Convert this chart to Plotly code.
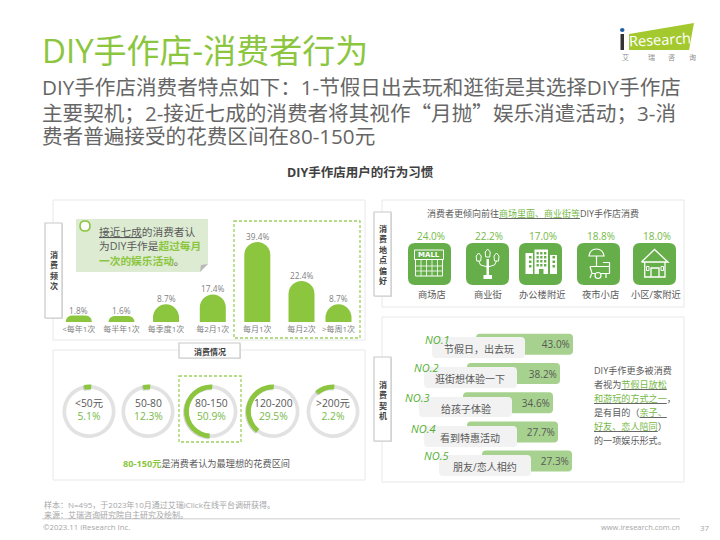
import plotly.graph_objects as go

# ---------- data ----------
freq_categories = ["<每年1次", "每半年1次", "每季度1次", "每2月1次", "每月1次", "每月2次", ">每周1次"]
freq_labels = ["1.8%", "1.6%", "8.7%", "17.4%", "39.4%", "22.4%", "8.7%"]
# the reference infographic does not draw its columns to scale: heights
freq_drawn_height = [3.2, 3.0, 8.7, 13.6, 39.4, 20.2, 8.7]

spend_categories = ["<50元", "50-80", "80-150", "120-200", ">200元"]
spend_labels = ["5.1%", "12.3%", "50.9%", "29.5%", "2.2%"]
# ring arcs (share of the circle) and where each starts
spend_arc_share = [4.5, 4.5, 50.0, 40.0, 12.0]
spend_arc_start = [-11, -11, 183, 218, -40]

place_categories = ["商场店", "商业街", "办公楼附近", "夜市小店", "小区/家附近"]
place_labels = ["24.0%", "22.2%", "17.0%", "18.8%", "18.0%"]

reason_categories = ["节假日，出去玩", "逛街想体验一下", "给孩子体验", "看到特惠活动", "朋友/恋人相约"]
reason_ranks = ["NO.1", "NO.2", "NO.3", "NO.4", "NO.5"]
reason_labels = ["43.0%", "38.2%", "34.6%", "27.7%", "27.3%"]
reason_bar_start = [476, 467, 463, 467, 482]
reason_bar_length = [97, 93, 90, 91, 90]

# ---------- layout constants ----------
W, H = 720, 540
FONT = "Open Sans, Noto Sans CJK SC"
CJK = "Noto Sans CJK SC"
GREEN = "#8cc63f"
ICON = "#66ae4a"
HBAR = "#a6d18e"
TXT = "#595959"
NOTE = "#a6a6a6"
DASH = "#9fd05f"
freq_x = [78.8, 121.5, 166, 212.8, 257.3, 301.5, 338.5]
ring_cx = [89, 148, 211, 273, 333]
ring_cy = 411.5
place_pct_x = [431, 489, 543, 601, 657]
place_lab_x = [432, 488, 542, 600, 656]
place_icon_x = [408, 466, 519, 577, 633]
place_icon_y = 243
rank_pos = [(437, 339), (426, 367), (417, 397), (423, 428), (436, 455)]
box_span = [(432, 525, 337, 358), (424, 517, 367, 388), (419, 512, 397, 417),
            (424, 517, 426, 447), (439, 531, 455, 476)]
box_text = [(479, 349), (470, 379), (466, 409), (470, 438), (485, 467)]

shapes, notes = [], []


def rr(x0, y0, x1, y1, r):
    return (f"M{x0+r},{y0} L{x1-r},{y0} Q{x1},{y0} {x1},{y0+r} L{x1},{y1-r} Q{x1},{y1} {x1-r},{y1} "
            f"L{x0+r},{y1} Q{x0},{y1} {x0},{y1-r} L{x0},{y0+r} Q{x0},{y0} {x0+r},{y0} Z")


def path(d, fill=None, line=None, lw=1, dash=None, layer="below"):
    s = dict(type="path", path=d, xref="x", yref="y", layer=layer,
             line=dict(color=line or "rgba(0,0,0,0)", width=lw if line else 0))
    if dash:
        s["line"]["dash"] = dash
    if fill:
        s["fillcolor"] = fill
    shapes.append(s)


def rect(x0, y0, x1, y1, fill=None, line=None, lw=1, dash=None, layer="below"):
    path(f"M{x0},{y0} L{x1},{y0} L{x1},{y1} L{x0},{y1} Z", fill, line, lw, dash, layer)


def text(x, y, t, size=9, color=TXT, anchor="left", family=FONT, angle=0):
    dx = {"left": -1, "right": 1, "center": 0}[anchor]
    notes.append(dict(x=x + dx, y=y, text=t, xref="x", yref="y", showarrow=False, xanchor=anchor,
                      yanchor="middle", align=anchor, textangle=angle,
                      font=dict(size=size, color=color, family=family)))


def tag(x0, y0, x1, y1, chars, yc, size=8):
    rect(x0 + 1, y0 + 1, x1 + 1, y1 + 1, fill="#e4e4e4")
    rect(x0, y0, x1, y1, fill="#ffffff", line="#c9c9c9", lw=1.2)
    text((x0 + x1) / 2, yc, "<b>" + "<br>".join(chars) + "</b>", size, "#404040", "center")


# ---------- page furniture ----------
QUOTE = f'<span style="font-family:{CJK}">“月抛”</span>'
text(41, 50, "DIY手作店-消费者行为", 33, GREEN)
text(41, 87, "DIY手作店消费者特点如下：1-节假日出去玩和逛街是其选择DIY手作店", 20.6, "#666666")
text(41, 111.5, f"主要契机；2-接近七成的消费者将其视作{QUOTE}娱乐消遣活动；3-消", 20.6, "#666666")
text(41, 136, "费者普遍接受的花费区间在80-150元", 20.6, "#666666")
text(360, 172, "<b>DIY手作店用户的行为习惯</b>", 12.5, "#404040", "center")

# logo
path("M629,34 L694,23 L689,50 L629,50 Z", fill="#a4c92f")
rect(620.5, 34, 624, 50, fill="#333333")
path("M624.5,30 Q624.5,32 622.2,32 Q620,32 620,30 Q620,28 622.2,28 Q624.5,28 624.5,30 Z", fill="#1f5fa8")
text(660, 39, "Research", 14.5, "#ffffff", "center", angle=-3)
for c, x in zip("艾瑞咨询", [625, 651, 671, 692]):
    text(x, 57, c, 7, "#8c8c8c", "center")

# panels
rect(53, 200, 365, 340, fill="#ffffff", line="#e8e8e8")
rect(53, 350, 365, 480, fill="#ffffff", line="#e8e8e8")
rect(382, 200, 684, 307, fill="#ffffff", line="#e8e8e8")
rect(382, 317, 684, 482, fill="#ffffff", line="#e8e8e8")
tag(45, 223, 62, 318, "消费频次", 270, 8)
tag(374, 212, 391, 296, "消费地点偏好", 254, 8)
tag(374, 357, 391, 441, "消费契机", 399.5, 8)
rect(180, 344, 241, 359, fill="#e6e6e6")
rect(179, 343, 240, 358, fill="#ffffff", line="#c9c9c9", lw=1.2)
text(209.5, 351, "<b>消费情况</b>", 8, "#404040", "center")

# callout
path("M76,219 L208,219 L208,264 L200,272 L76,272 Z", fill="#dcebd2")
path("M200,272 L208,264 L201,265 Z", fill="#b9b9b9")
path("M90,226 Q90,231 85,231 Q80,231 80,226 Q80,221 85,221 Q90,221 90,226 Z", fill="#ffffff", line=GREEN, lw=1.6)
text(98, 232, "<u>接近七成</u>的消费者认", 10.7)
text(98, 246, f'为DIY手作是<b><span style="color:{GREEN}">超过每月</span></b>', 10.7)
text(98, 261, f'<b><span style="color:{GREEN}">一次的娱乐活动</span></b>。', 10.7)
rect(234, 221, 360, 338, line=DASH, lw=1.3, dash="3px,2px")

# rings highlight / captions
rect(179, 376, 241, 442, line=DASH, lw=1.3, dash="3px,2px")
for cx, c, v in zip(ring_cx, spend_categories, spend_labels):
    text(cx, 409.7, f'{c}<br><span style="color:#76b947">{v}</span>', 10.3, TXT, "center")
text(206, 463, f'<b><span style="color:{GREEN}">80-150元</span></b>是消费者认为最理想的花费区间', 9.2, TXT, "center")

# footer
text(43, 504, "样本：N=495，于2023年10月通过艾瑞iClick在线平台调研获得。", 8, NOTE)
text(43, 514, "来源：艾瑞咨询研究院自主研究及绘制。", 8, NOTE)
rect(42, 518, 680, 519.5, fill="#dedede")
text(42, 527, "©2023.11 iResearch Inc.", 7.8, NOTE)
text(681, 526.7, "www.iresearch.com.cn", 7.5, NOTE, "right")
text(705, 527, "37", 8, NOTE, "center")

# places
text(426, 213, '消费者更倾向前往<u><span style="color:#76b947">商场里面、商业街等</span></u>DIY手作店消费', 9)
for x, v in zip(place_pct_x, place_labels):
    text(x, 236, v, 10, "#76b947", "center")
for x, c in zip(place_lab_x, place_categories):
    text(x, 294, c, 9.3, TXT, "center")
for x in place_icon_x:
    path(rr(x, place_icon_y, x + 43, place_icon_y + 42, 7), fill=ICON)

WH = "#ffffff"


def L(ix, pts, lw=1.0, close=False):
    d = "M" + " L".join(f"{ix+a},{place_icon_y+b}" for a, b in pts) + (" Z" if close else "")
    path(d, line=WH, lw=lw)


def F(ix, x0, y0, x1, y1, c=WH):
    rect(ix + x0, place_icon_y + y0, ix + x1, place_icon_y + y1, fill=c)


# mall
ix = place_icon_x[0]
L(ix, [(6.5, 7), (35.5, 7), (35.5, 16.5), (6.5, 16.5)], 1, True)
text(ix + 21, place_icon_y + 12, "<b>MALL</b>", 7, WH, "center", "DejaVu Sans")
L(ix, [(7.5, 16.5), (7.5, 33), (34.5, 33), (34.5, 16.5)], 1)
for a in (13, 18.5, 24, 29.5):
    L(ix, [(a, 16.5), (a, 33)], 0.8)
L(ix, [(7.5, 23), (34.5, 23)], 0.8)
L(ix, [(7.5, 28), (34.5, 28)], 0.8)
# street lamp
ix = place_icon_x[1]
F(ix, 17.5, 32, 26, 36)
F(ix, 20.5, 16, 23, 32)
for cx, cy in ((21.7, 11), (12.7, 15), (30.5, 15)):
    L(ix, [(cx - 2.5, cy - 2), (cx, cy - 5), (cx + 2.5, cy - 2), (cx + 2, cy + 3), (cx - 2, cy + 3)], 1, True)
L(ix, [(12.7, 18), (14.5, 22), (21.7, 24), (28.5, 22), (30.5, 18)], 1)
# office
ix = place_icon_x[2]
F(ix, 6.5, 10, 14, 31)
F(ix, 15.5, 6.5, 29, 31)
F(ix, 31, 12, 38, 31)
for a in (17.5, 21.2, 25):
    for b in (9, 13, 17, 21):
        F(ix, a, b, a + 2.3, b + 2.5, ICON)
for b in (13, 17.5, 22):
    F(ix, 10, b, 12.5, b + 2.5, ICON)
    F(ix, 33.5, b, 36, b + 2.5, ICON)
F(ix, 20, 26, 24.5, 31, ICON)
# cart
ix = place_icon_x[3]
path(f"M{ix+12},{place_icon_y+13} Q{ix+13},{place_icon_y+6} {ix+19.5},{place_icon_y+6} "
     f"Q{ix+26},{place_icon_y+6} {ix+27},{place_icon_y+13} Z", line=WH, lw=1.2)
L(ix, [(19.5, 13), (19.5, 23)], 1.2)
L(ix, [(13, 23.5), (32.5, 23.5), (32.5, 19.5), (26, 19.5)], 1.2)
L(ix, [(13, 23.5), (15, 30.5), (32.5, 30.5), (32.5, 23.5)], 1.2)
L(ix, [(29, 30.5), (29, 35)], 1.2)
L(ix, [(13, 35), (14.5, 31)], 1.2)
path(f"M{ix+24},{place_icon_y+32.5} Q{ix+24},{place_icon_y+35.5} {ix+21},{place_icon_y+35.5} "
     f"Q{ix+18},{place_icon_y+35.5} {ix+18},{place_icon_y+32.5} Q{ix+18},{place_icon_y+29.5} {ix+21},{place_icon_y+29.5} "
     f"Q{ix+24},{place_icon_y+29.5} {ix+24},{place_icon_y+32.5} Z", fill=ICON, line=WH, lw=1.2)
# house
ix = place_icon_x[4]
L(ix, [(8.5, 19), (21.5, 6.5), (35, 19), (8.5, 19)], 1.3)
L(ix, [(11.7, 19), (11.7, 34), (32, 34), (32, 19)], 1.3)
L(ix, [(18, 34), (18, 25), (26, 25), (26, 34)], 1.3)
L(ix, [(13.5, 23.5), (16, 23.5), (16, 27.5), (13.5, 27.5)], 1, True)
L(ix, [(28, 23.5), (30.5, 23.5), (30.5, 27.5), (28, 27.5)], 1, True)

# reasons: grey caption boxes and labels
for (x0, x1, y0, y1) in box_span:
    path(rr(x0, y0, x1, y1, 4), fill="#f2f2f2", layer="above")
for (x, y), c in zip(box_text, reason_categories):
    text(x, y, c, 10, TXT, "center")
for (x, y), c in zip(rank_pos, reason_ranks):
    text(x, y, f"<i>{c}</i>", 11, "#55b033", "center")
comment = ["DIY手作更多被消费", '者视为<u><span style="color:#76b947">节假日放松</span></u>',
           '<u><span style="color:#76b947">和游玩的方式之一</span></u>，',
           '是有目的（<u><span style="color:#76b947">亲子、</span></u>',
           '<u><span style="color:#76b947">好友、恋人陪同</span></u>）', "的一项娱乐形式。"]
for i, line in enumerate(comment):
    text(593, 370 + 14 * i, line, 9.1)

# column value labels sit just above each column, through the chart's own axes
for x, h, v in zip(freq_x, freq_drawn_height, freq_labels):
    notes.append(dict(x=x, y=h, xref="x2", yref="y2", text=v, showarrow=False, xanchor="center",
                      yanchor="bottom", yshift=-2, font=dict(size=8.3, color="#7f7f7f", family=FONT)))

# ---------- traces ----------
fig = go.Figure()
fig.add_trace(go.Scatter(x=[0], y=[0], mode="none", hoverinfo="skip", showlegend=False))

fig.add_trace(go.Bar(
    x=freq_x, y=freq_drawn_height, width=26, xaxis="x2", yaxis="y2",
    marker=dict(color=GREEN, cornerradius=13, line=dict(width=0)),
    cliponaxis=False, hoverinfo="skip", showlegend=False))

fig.add_trace(go.Bar(
    y=list(range(5)), x=reason_bar_length, base=reason_bar_start, width=0.72, orientation="h",
    xaxis="x3", yaxis="y3",
    marker=dict(color=HBAR, cornerradius=4, line=dict(width=0)),
    text=reason_labels, textposition="inside", insidetextanchor="end", textangle=0,
    textfont=dict(size=10, color=TXT, family=FONT),
    hoverinfo="skip", showlegend=False))


def ring(cx, r, hole, vals, colors, rot, dy=0.0):
    fig.add_trace(go.Pie(
        values=vals, sort=False, direction="clockwise", rotation=rot, hole=hole,
        textinfo="none", hoverinfo="skip", showlegend=False,
        marker=dict(colors=colors, line=dict(width=0)),
        domain=dict(x=[(cx - r) / W, (cx + r) / W],
                    y=[1 - (ring_cy + dy + r) / H, 1 - (ring_cy + dy - r) / H])))


for cx, share, start in zip(ring_cx, spend_arc_share, spend_arc_start):
    rest = 100 - share
    ring(cx, 26.5, 0.86, [share, rest], ["#e2e2e2", "#e2e2e2"], start)
    ring(cx - 1, 27, 0.82, [share, rest], ["rgba(0,0,0,0.16)", "rgba(0,0,0,0)"], start, 1)
    ring(cx, 27, 0.82, [share, rest], [GREEN, "rgba(0,0,0,0)"], start)

hidden = dict(visible=False, fixedrange=True)
fig.update_layout(
    width=W, height=H, margin=dict(l=0, r=0, t=0, b=0),
    paper_bgcolor="#ffffff", plot_bgcolor="rgba(0,0,0,0)", barmode="overlay",
    xaxis=dict(domain=[0, 1], range=[0, W], **hidden),
    yaxis=dict(domain=[0, 1], range=[H, 0], **hidden),
    xaxis2=dict(domain=[53 / W, 365 / W], range=[53, 365], anchor="y2", fixedrange=True, showgrid=False,
                zeroline=False, showline=False, ticks="", tickmode="array", tickvals=freq_x,
                ticktext=freq_categories, tickangle=0, ticklabelstandoff=1,
                tickfont=dict(size=8, color="#7f7f7f", family=FONT)),
    yaxis2=dict(domain=[1 - 322 / H, 1 - 222 / H], range=[0, 100 / 2.03], anchor="x2", **hidden),
    xaxis3=dict(domain=[382 / W, 684 / W], range=[382, 684], anchor="y3", **hidden),
    yaxis3=dict(domain=[1 - 482 / H, 1 - 317 / H], range=[4.716, -0.935], anchor="x3", **hidden),
    shapes=shapes, annotations=notes,
    font=dict(family=FONT))

fig.write_html("out.html", config=dict(displayModeBar=False),
               post_script="document.body.style.margin='0';")
